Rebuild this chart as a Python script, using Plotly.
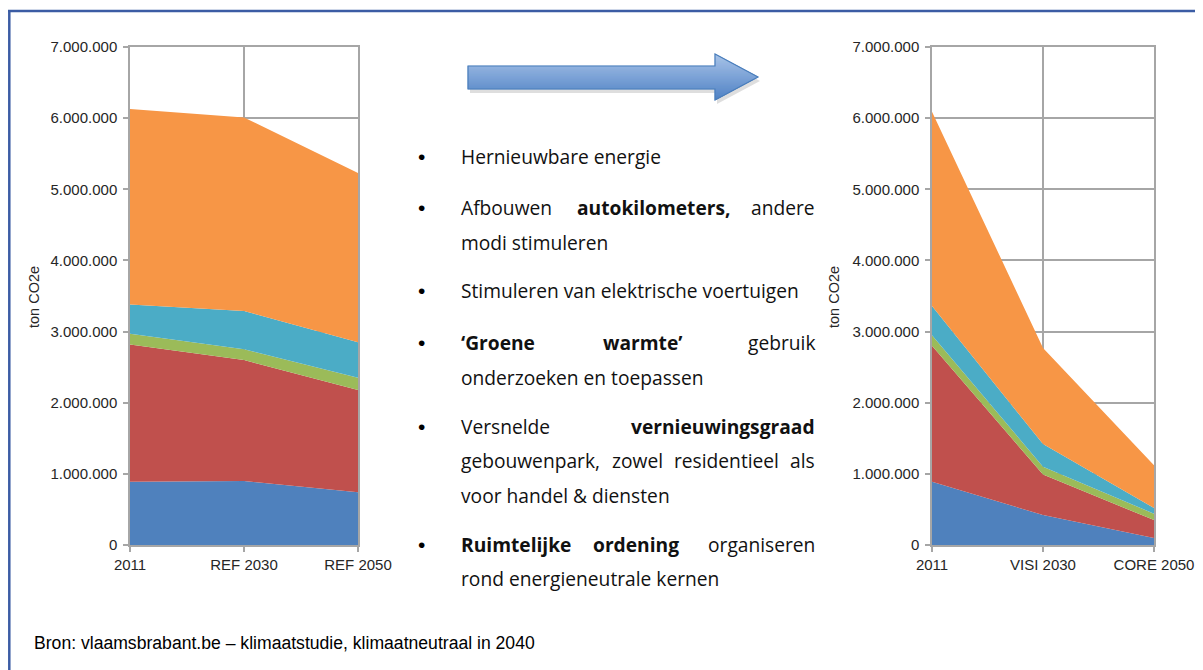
import plotly.graph_objects as go

W, H = 1203, 670          # page size
OFF = 8                   # default body margin of the html page
FW, FH = W - OFF, H - OFF  # figure size so the page is exactly W x H

# ---------------- data ----------------
left_categories = ["2011", "REF 2030", "REF 2050"]
right_categories = ["2011", "VISI 2030", "CORE 2050"]

series_names = ["Sector 1", "Sector 2", "Sector 3", "Sector 4", "Sector 5"]
series_colors = ["#4F81BD", "#C0504D", "#9BBB59", "#4BACC6", "#F79646"]

# left chart (reference scenarios), ton CO2e per stacked layer
left_s1 = [890000, 900000, 740000]
left_s2 = [1930000, 1700000, 1440000]
left_s3 = [150000, 150000, 170000]
left_s4 = [410000, 540000, 500000]
left_s5 = [2750000, 2720000, 2380000]

# right chart (vision scenarios)
right_s1 = [890000, 420000, 100000]
right_s2 = [1910000, 570000, 250000]
right_s3 = [150000, 110000, 90000]
right_s4 = [410000, 320000, 80000]
right_s5 = [2730000, 1350000, 600000]

y_title = "ton CO2e"
source_text = "Bron: vlaamsbrabant.be – klimaatstudie, klimaatneutraal in 2040"

# ---------------- helpers ----------------
def px(x):
    return (x - OFF) / FW


def py(y):
    return 1 - (y - OFF) / FH


fig = go.Figure()

left_series = [left_s1, left_s2, left_s3, left_s4, left_s5]
right_series = [right_s1, right_s2, right_s3, right_s4, right_s5]

for name, color, vals in zip(series_names, series_colors, left_series):
    fig.add_trace(go.Scatter(x=left_categories, y=vals, name=name, stackgroup="left",
                             mode="none", fillcolor=color, showlegend=False,
                             xaxis="x", yaxis="y"))
for name, color, vals in zip(series_names, series_colors, right_series):
    fig.add_trace(go.Scatter(x=right_categories, y=vals, name=name, stackgroup="right",
                             mode="none", fillcolor=color, showlegend=False,
                             xaxis="x2", yaxis="y2"))

grid_col = "#A6A6A6"
tick_font = dict(family="Liberation Sans, Arial, sans-serif", size=15, color="#262626")


def xaxis_cfg(domain, anchor):
    return dict(domain=domain, anchor=anchor, type="category", range=[0, 2],
                showgrid=True, gridcolor=grid_col, gridwidth=1.5,
                showline=True, linecolor=grid_col, linewidth=1.5, mirror=True,
                ticks="outside", ticklen=5, tickcolor=grid_col, tickwidth=1.5,
                tickfont=tick_font, fixedrange=True)


def yaxis_cfg(domain, anchor):
    return dict(domain=domain, anchor=anchor, range=[0, 7000000], dtick=1000000,
                tickformat=",d", showgrid=True, gridcolor=grid_col, gridwidth=1.5,
                showline=True, linecolor=grid_col, linewidth=1.5, mirror=True,
                ticks="outside", ticklen=5, tickcolor=grid_col, tickwidth=1.5,
                ticklabelstandoff=3,
                tickfont=tick_font, zeroline=False, fixedrange=True)


ydom = [py(545), py(47)]

annotations = []
for xx in (34, 834):
    annotations.append(dict(x=px(xx), y=py(297), xref="paper", yref="paper",
                            text=y_title, textangle=-90, showarrow=False,
                            font=dict(family="Liberation Sans, Arial, sans-serif", size=14.5, color="#262626"),
                            xanchor="center", yanchor="middle"))

body_font = dict(family="Open Sans, Noto Sans, sans-serif", size=19.2, color="#111111")


def word(text, x, y, anchor="left", bold=False):
    t = f"<b>{text}</b>" if bold else text
    annotations.append(dict(x=px(x), y=py(y), xref="paper", yref="paper", text=t,
                            showarrow=False, font=body_font, xanchor=anchor, yanchor="middle",
                            borderpad=0, borderwidth=0))


for yy in (157, 207, 291, 342, 426, 544):
    annotations.append(dict(x=px(421), y=py(yy), xref="paper", yref="paper", text="•",
                            showarrow=False, font=dict(family="Liberation Sans, Arial", size=21, color="#000000"),
                            xanchor="center", yanchor="middle"))

L, R = 461, 815
word("Hernieuwbare energie", L, 157)
word("Afbouwen", L, 207)
word("autokilometers,", 653, 207, "center", True)
word("andere", R, 207, "right")
word("modi stimuleren", L, 242)
word("Stimuleren van elektrische voertuigen", L, 291)
word("‘Groene", L, 342, bold=True)
word("warmte’", 642, 342, "center", True)
word("gebruik", R, 342, "right")
word("onderzoeken en toepassen", L, 377)
word("Versnelde", L, 426)
word("vernieuwingsgraad", R, 426, "right", True)
word("gebouwenpark,", L, 460)
word("zowel", 637.5, 460, "center")
word("residentieel", 726.5, 460, "center")
word("als", R, 460, "right")
word("voor handel &amp; diensten", L, 495)
word("Ruimtelijke", L, 544, bold=True)
word("ordening", 636, 544, "center", True)
word("organiseren", R, 544, "right")
word("rond energieneutrale kernen", L, 578)

annotations.append(dict(x=px(32), y=py(643), xref="paper", yref="paper", text=source_text,
                        showarrow=False, xanchor="left", yanchor="middle",
                        font=dict(family="Liberation Sans, Arial, sans-serif", size=17.6, color="#000000")))

shapes = [
    dict(type="line", xref="paper", yref="paper", x0=px(8), x1=1.0, y0=py(11), y1=py(11),
         line=dict(color="#3B5CA4", width=2.5)),
    dict(type="line", xref="paper", yref="paper", x0=px(9.3), x1=px(9.3), y0=py(11), y1=0,
         line=dict(color="#3B5CA4", width=2.5)),
]

# ---- decorative arrow (gradient emulated with thin horizontal strips) ----
A_L, A_HB, A_TIP = 468, 715, 758
A_BT, A_BB, A_HT, A_HBOT, A_MID = 66, 89, 54, 100, 77


def right_x(y):
    return A_HB + (A_TIP - A_HB) * (1 - abs(y - A_MID) / (A_MID - A_HT))


def mix(c1, c2, t):
    return "#%02x%02x%02x" % tuple(int(round(a + (b - a) * t)) for a, b in zip(c1, c2))


top_c, bot_c = (0xAA, 0xC5, 0xE9), (0x50, 0x82, 0xC5)
outline_pts = [(A_L, A_BT), (A_HB, A_BT), (A_HB, A_HT), (A_TIP, A_MID), (A_HB, A_HBOT), (A_HB, A_BB), (A_L, A_BB)]
sh_path = "M " + " L ".join(f"{px(x + 2)},{py(y + 4)}" for x, y in outline_pts) + " Z"
shapes.append(dict(type="path", xref="paper", yref="paper", path=sh_path,
                   fillcolor="rgba(0,0,0,0.13)", line=dict(width=0), layer="below"))
for y0 in range(A_HT, A_HBOT):
    y1 = y0 + 1
    t = (y0 + 0.5 - A_HT) / (A_HBOT - A_HT)
    col = mix(top_c, bot_c, t)
    lx0 = A_L if (A_BT <= y0 and y1 <= A_BB) else A_HB
    pts = [(lx0, y0), (right_x(y0), y0), (right_x(y1), y1), (lx0, y1)]
    if y0 < A_MID < y1:
        pts = [(lx0, y0), (right_x(y0), y0), (A_TIP, A_MID), (right_x(y1), y1), (lx0, y1)]
    path = "M " + " L ".join(f"{px(x)},{py(y)}" for x, y in pts) + " Z"
    shapes.append(dict(type="path", xref="paper", yref="paper", path=path,
                       fillcolor=col, line=dict(width=0.6, color=col)))
outline = "M " + " L ".join(f"{px(x)},{py(y)}" for x, y in outline_pts) + " Z"
shapes.append(dict(type="path", xref="paper", yref="paper", path=outline,
                   line=dict(color="#4A7EBB", width=1.2)))

fig.update_layout(
    width=FW, height=FH, margin=dict(l=0, r=0, t=0, b=0, autoexpand=False),
    paper_bgcolor="white", plot_bgcolor="white",
    separators=",.",
    showlegend=False,
    xaxis=xaxis_cfg([px(130), px(358)], "y"),
    yaxis=yaxis_cfg(ydom, "x"),
    xaxis2=xaxis_cfg([px(932), px(1154)], "y2"),
    yaxis2=yaxis_cfg(ydom, "x2"),
    annotations=annotations,
    shapes=shapes,
)

fig.write_html("out.html")
